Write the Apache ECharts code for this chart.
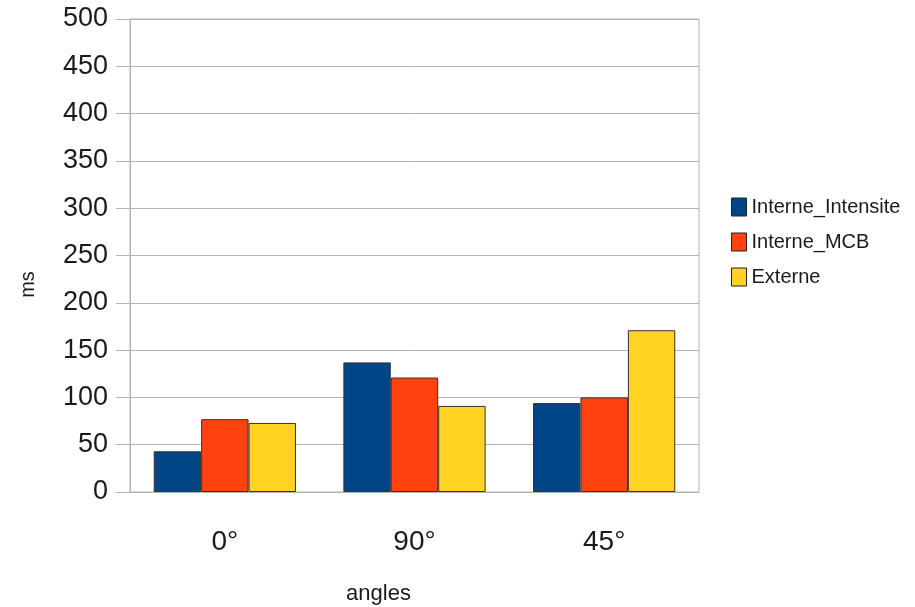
<!DOCTYPE html>
<html>
<head>
<meta charset="utf-8">
<script src="https://cdn.jsdelivr.net/npm/echarts@6/dist/echarts.min.js"></script>
<style>html,body{margin:0;padding:0;background:#fff;overflow:hidden}#c{width:915px;height:607px}</style>
</head>
<body>
<div id="c"></div>
<script>
var categories = ['0°', '90°', '45°'];
var seriesNames = ['Interne_Intensite', 'Interne_MCB', 'Externe'];
var interneIntensite = [43, 137, 94];
var interneMCB = [77, 121, 100];
var externe = [73, 91, 171];
var colors = ['#004586', '#ff420e', '#ffd320'];

var font = '"Liberation Sans", Arial, sans-serif';
var chart = echarts.init(document.getElementById('c'));
var allData = [interneIntensite, interneMCB, externe];
chart.setOption({
  animation: false,
  color: colors,
  grid: { left: 130, width: 569, top: 19, height: 473, containLabel: false,
          outerBoundsMode: 'none',
          show: true, borderColor: '#b3b3b3', borderWidth: 1 },
  legend: {
    orient: 'vertical', left: 726, top: 192,
    itemWidth: 15, itemHeight: 18, itemGap: 15,
    icon: 'rect',
    data: seriesNames,
    textStyle: { fontFamily: font, fontSize: 20, color: '#1a1a1a' },
    itemStyle: { borderColor: '#222', borderWidth: 1 }
  },
  xAxis: {
    type: 'category', data: categories,
    name: 'angles', nameLocation: 'middle', nameGap: 91,
    nameTextStyle: { fontFamily: font, fontSize: 22, color: '#1a1a1a', padding: [0, 72, 0, 0] },
    axisLine: { lineStyle: { color: '#b3b3b3' } },
    axisTick: { alignWithLabel: true, length: 18, lineStyle: { color: '#b3b3b3' } },
    axisLabel: { fontFamily: font, fontSize: 28, color: '#1a1a1a', margin: 36 }
  },
  yAxis: {
    type: 'value', min: 0, max: 500, interval: 50,
    name: 'ms', nameLocation: 'middle', nameGap: 92, nameRotate: 90,
    nameTextStyle: { fontFamily: font, fontSize: 20, color: '#1a1a1a', padding: [0, 58, 0, 0] },
    axisLine: { show: true, lineStyle: { color: '#b3b3b3' } },
    axisTick: { show: true, length: 14, lineStyle: { color: '#b3b3b3' } },
    splitLine: { lineStyle: { color: '#b3b3b3' } },
    axisLabel: { fontFamily: font, fontSize: 27, color: '#1a1a1a', margin: 22 }
  },
  series: seriesNames.map(function (n, i) {
    return {
      name: n, type: 'bar', data: allData[i],
      barGap: '0%', barCategoryGap: '25%',
      itemStyle: { borderColor: '#333', borderWidth: 1 }
    };
  })
});
</script>
</body>
</html>
